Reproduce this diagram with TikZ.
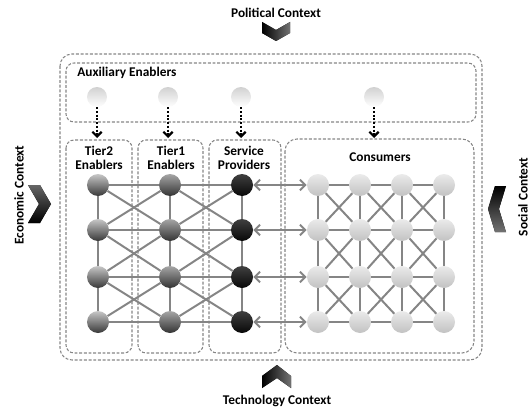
\documentclass[tikz,border=0pt]{standalone}
\usepackage{fontspec}
\setmainfont{Carlito}
\usetikzlibrary{arrows.meta}
\pgfdeclarelayer{back}
\pgfdeclarelayer{mid}
\pgfsetlayers{back,mid,main}
\begin{document}
\begin{tikzpicture}[x=0.75pt,y=-0.75pt,
  font=\bfseries\fontsize{10}{10.5}\selectfont,
  dbox/.style={draw=black!48, line width=0.8pt, dash pattern=on 2.2pt off 1.3pt, rounded corners=6pt},
  ballbase/.style={circle, inner sep=0pt, minimum size=16.5pt},
  ballA/.style={ballbase, top color=black!22, bottom color=black!78},
  ballB/.style={ballbase, top color=black!35, bottom color=black!80},
  ballS/.style={ballbase, top color=black!75, bottom color=black!97},
  ballC/.style={ballbase, top color=black!8, bottom color=black!24},
  ballX/.style={ballbase, minimum size=15pt, top color=black!18, bottom color=white},
  gl/.style={draw=black!48, line width=1.5pt},
  biarrow/.style={gl, {Straight Barb[length=4pt,width=8pt]}-{Straight Barb[length=4pt,width=8pt]}},
  dotarrow/.style={draw=black, line width=1.7pt, dash pattern=on 1.5pt off 1.3pt, -{Straight Barb[length=3.5pt,width=7pt]}},
  lbl/.style={inner sep=0pt, align=center},
]
\useasboundingbox (0,0) rectangle (531,410);

% dashed boxes
\begin{pgfonlayer}{back}
\draw[dbox, rounded corners=9pt] (60,54) rectangle (482,360);
\draw[dbox] (66,63) rectangle (476,122);
\draw[dbox] (66,140) rectangle (132,353);
\draw[dbox] (138,140) rectangle (203,353);
\draw[dbox] (209,140) rectangle (281,353);
\draw[dbox, rounded corners=9pt] (285,139) rectangle (474,353);
\end{pgfonlayer}

% labels
\node[lbl] (pol) at (276,13) {Political Context};
\node[lbl] (tec) at (277,401) {Technology Context};
\node[lbl, rotate=90] (eco) at (19,195) {Economic Context};
\node[lbl, rotate=90] (soc) at (523,197) {Social Context};
\node[lbl, anchor=west] (aux) at (77,73) {Auxiliary Enablers};
\node[lbl] (t2) at (99,158) {Tier2\\Enablers};
\node[lbl] (t1) at (171,158) {Tier1\\Enablers};
\node[lbl] (sp) at (244,158) {Service\\Providers};
\node[lbl] (con) at (380,157) {Consumers};

% chevrons
\fill[left color=black, right color=black!55] (262,22) -- (276,30) -- (290,22) -- (290,33) -- (276,41) -- (262,33) -- cycle;
\fill[left color=black, right color=black!55] (262,376) -- (277,365) -- (291,376) -- (291,388) -- (277,378) -- (262,388) -- cycle;
\fill[top color=black!60, bottom color=black] (28,185) -- (40,185) -- (51,204) -- (40,223) -- (28,223) -- (39,204) -- cycle;
\fill[top color=black, bottom color=black!55] (506,186) -- (495,186) -- (488,209) -- (495,232) -- (506,232) -- (499,209) -- cycle;

% auxiliary enablers
\foreach \i/\x in {1/97,2/168,3/241,4/374} {
  \node[ballX] (x\i) at (\x,97) {};
  \coordinate (e\i) at (\x,138);
  \draw[dotarrow] (x\i) -- (e\i);
}

% grid nodes
\foreach \r/\y in {1/185,2/230,3/277,4/322} {
  \node[ballA] (a\r) at (98,\y) {};
  \node[ballB] (b\r) at (170,\y) {};
  \node[ballS] (s\r) at (242,\y) {};
  \foreach \c/\x in {1/318,2/360,3/402,4/444}
    \node[ballC] (c\c\r) at (\x,\y) {};
}

\begin{pgfonlayer}{mid}
% left grid
\foreach \r in {1,...,4} {
  \draw[gl] (a\r) -- (b\r);
  \draw[gl] (b\r) -- (s\r);
  \draw[biarrow] (s\r) -- (c1\r);
}
\foreach \r in {1,2,3} {
  \pgfmathtruncatemacro{\rr}{\r+1}
  \draw[gl] (a\r) -- (a\rr);
  \draw[gl] (b\r) -- (b\rr);
  \draw[gl] (s\r) -- (s\rr);
  \draw[gl] (a\r) -- (b\rr);
  \draw[gl] (b\r) -- (a\rr);
  \draw[gl] (b\r) -- (s\rr);
  \draw[gl] (s\r) -- (b\rr);
}
% consumer grid
\foreach \c in {1,...,4} {
  \foreach \r in {1,2,3} {
    \pgfmathtruncatemacro{\rr}{\r+1}
    \draw[gl] (c\c\r) -- (c\c\rr);
  }
}
\foreach \c in {1,2,3} {
  \pgfmathtruncatemacro{\cc}{\c+1}
  \foreach \r in {1,...,4} {
    \draw[gl] (c\c\r) -- (c\cc\r);
  }
  \foreach \r in {1,2,3} {
    \pgfmathtruncatemacro{\rr}{\r+1}
    \draw[gl] (c\c\r) -- (c\cc\rr);
    \draw[gl] (c\cc\r) -- (c\c\rr);
  }
}
\end{pgfonlayer}
\end{tikzpicture}
\end{document}
